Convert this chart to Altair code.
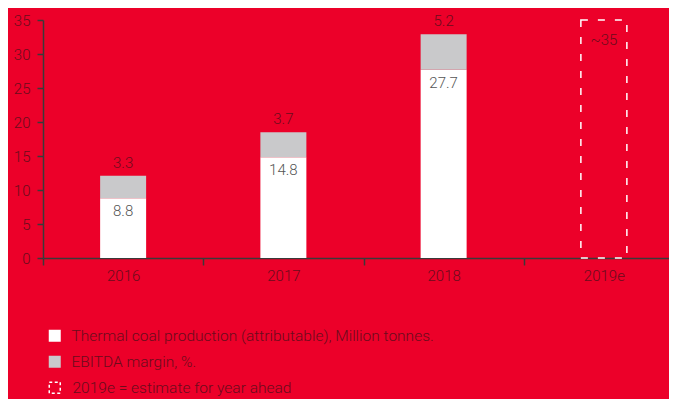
import altair as alt
import pandas as pd

years = ["2016", "2017", "2018"]
coal = [8.8, 14.8, 27.7]
ebitda = [3.3, 3.7, 5.2]
est_year = ["2019e"]
est_value = [35]
est_label = ["~35"]
x_domain = ["2016", "2017", "2018", "2019e"]
y_ticks = [0, 5, 10, 15, 20, 25, 30, 35]
series = ["Thermal coal production (attributable), Million tonnes.", "EBITDA margin, %."]
est_series = "2019e = estimate for year ahead"

BG = "#EC0029"
TXT = "#6a0c1c"
AX = "#3a3a3a"
GRAY = "#C9C9CB"
FONT = "Roboto"

rows = []
for y, c, e in zip(years, coal, ebitda):
    rows.append({"year": y, "series": series[0], "value": c, "ord": 0})
    rows.append({"year": y, "series": series[1], "value": e, "ord": 1})
long_df = pd.DataFrame(rows)

lab_df = pd.DataFrame({
    "year": years,
    "coal": coal,
    "ebitda": ebitda,
    "total": [c + e for c, e in zip(coal, ebitda)],
})
est_df = pd.DataFrame({"year": est_year, "value": est_value, "label": est_label, "kind": [est_series]})

xaxis = alt.Axis(title=None, labelAngle=0, tickBand="extent", domainColor=AX, tickColor=AX,
                 domainWidth=1.5, tickWidth=1.5, tickSize=7, labelPadding=3,
                 labelColor=TXT, labelFont=FONT, labelFontSize=15, labelFontWeight=300)
yaxis = alt.Axis(title=None, values=y_ticks, grid=False, labelOverlap=False,
                 domainColor=AX, tickColor=AX, domainWidth=1.5, tickWidth=1.5, tickSize=6,
                 labelPadding=7, labelColor=TXT, labelFont=FONT, labelFontSize=15,
                 labelFontWeight=300)
# four bands of ~160 px; the last one runs past the right edge of the picture
xscale = alt.Scale(domain=x_domain, paddingInner=0, paddingOuter=0, range=[0, 641])
yscale = alt.Scale(domain=[0, 35], nice=False)

def X():
    return alt.X("year:N", scale=xscale, axis=xaxis)

bars = alt.Chart(long_df).mark_bar(size=46).encode(
    x=X(),
    y=alt.Y("value:Q", stack="zero", scale=yscale, axis=yaxis),
    color=alt.Color("series:N", scale=alt.Scale(domain=series, range=["#FFFFFF", GRAY]),
                    legend=alt.Legend(title=None, orient="none", legendX=4, legendY=308,
                                      symbolType="square", symbolSize=144, symbolStrokeWidth=0,
                                      labelFont=FONT, labelFontSize=15.5, labelFontWeight=300,
                                      labelColor=TXT, rowPadding=9, labelOffset=9,
                                      labelLimit=600)),
    order=alt.Order("ord:Q"),
)

# the dashed estimate box
est = alt.Chart(est_df).mark_bar(size=46, fill="transparent", stroke="white", strokeWidth=1.5,
                                 strokeDash=[7, 10]).encode(
    x=X(),
    y=alt.Y("value:Q", scale=yscale, axis=yaxis),
)

# legend entry for the estimate box (draws no mark itself)
est_legend = alt.Chart(est_df).transform_filter("false").mark_bar(
    fill="transparent", stroke="white", strokeWidth=1.5).encode(
    x=X(),
    y=alt.Y("value:Q", scale=yscale, axis=yaxis),
    strokeDash=alt.StrokeDash("kind:N", scale=alt.Scale(domain=[est_series], range=[[3, 2.5]]),
                              legend=alt.Legend(title=None, orient="none", legendX=4, legendY=360,
                                                symbolType="square", symbolSize=121,
                                                symbolStrokeColor="white", symbolFillColor="transparent",
                                                symbolStrokeWidth=1.5,
                                                labelFont=FONT, labelFontSize=15.5, labelFontWeight=300,
                                                labelColor=TXT, labelOffset=10, labelLimit=600)),
)

top_txt = alt.Chart(lab_df).mark_text(baseline="bottom", dy=-5, font=FONT, fontSize=15,
                                      fontWeight=300, color=TXT).encode(
    x=X(),
    y=alt.Y("total:Q", scale=yscale, axis=yaxis),
    text=alt.Text("ebitda:Q", format=".1f"),
)
in_txt = alt.Chart(lab_df).mark_text(baseline="top", dy=6, font=FONT, fontSize=15,
                                     fontWeight=300, color="#555555").encode(
    x=X(),
    y=alt.Y("coal:Q", scale=yscale, axis=yaxis),
    text=alt.Text("coal:Q", format=".1f"),
)
est_txt = alt.Chart(est_df).mark_text(baseline="top", dy=13, font=FONT, fontSize=15,
                                      fontWeight=300, color=TXT).encode(
    x=X(),
    y=alt.Y("value:Q", scale=yscale, axis=yaxis),
    text="label:N",
)

chart = alt.layer(bars, est, est_legend, top_txt, in_txt, est_txt).properties(
    width=626, height=238, background=BG,
    autosize=alt.AutoSizeParams(type="none"),
    padding={"left": 35, "top": 12, "right": 0, "bottom": 141},
).configure_view(stroke=None).configure_legend(padding=0)

chart.save("out.html", embed_options={"renderer": "svg", "actions": False})
